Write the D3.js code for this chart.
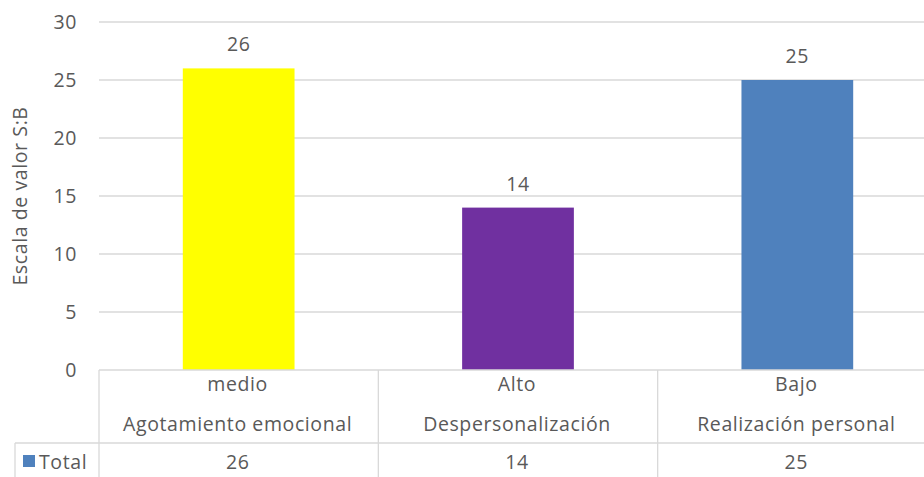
<!DOCTYPE html>
<html>
<head>
<meta charset="utf-8">
<script src="https://cdn.jsdelivr.net/npm/d3@7"></script>
<style>
  body { margin: 0; background: #fff; }
  text { font-family: "Open Sans", sans-serif; fill: #595959; font-size: 19.5px; letter-spacing: 0.6px; }
</style>
</head>
<body>
<script>
const levels = ['medio', 'Alto', 'Bajo'];
const dimensions = ['Agotamiento emocional', 'Despersonalización', 'Realización personal'];
const totals = [26, 14, 25];
const barColors = ['#FFFF00', '#7030A0', '#4F81BD'];
const yTicks = [0, 5, 10, 15, 20, 25, 30];

const width = 924, height = 477;
const plotLeft = 99, plotRight = 937, plotTop = 22, plotBottom = 370;

const svg = d3.select('body').append('svg')
  .attr('width', width).attr('height', height);

const x = d3.scaleBand()
  .domain(d3.range(totals.length))
  .range([plotLeft, plotRight])
  .paddingInner(0.6).paddingOuter(0.3);

// category slots for the table (no padding)
const slot = d3.scaleBand().domain(d3.range(totals.length)).range([plotLeft, plotRight]);

const y = d3.scaleLinear().domain([0, 30]).range([plotBottom, plotTop]);

// gridlines
svg.append('g').selectAll('line')
  .data(yTicks.filter(d => d > 0))
  .enter().append('line')
  .attr('x1', plotLeft).attr('x2', width)
  .attr('y1', d => y(d)).attr('y2', d => y(d))
  .attr('stroke', '#d9d9d9').attr('stroke-width', 1.3);

// tick labels
svg.append('g').selectAll('text')
  .data(yTicks)
  .enter().append('text')
  .attr('x', 77).attr('y', d => y(d))
  .attr('dy', '0.36em')
  .attr('text-anchor', 'end')
  .text(d => d);

// axis title
svg.append('text')
  .attr('transform', 'translate(27,' + ((plotTop + plotBottom) / 2) + ') rotate(-90)')
  .attr('text-anchor', 'middle')
  .text('Escala de valor S:B');

// bars
svg.append('g').selectAll('rect')
  .data(totals)
  .enter().append('rect')
  .attr('x', (d, i) => x(i))
  .attr('width', x.bandwidth())
  .attr('y', d => y(d))
  .attr('height', d => y(0) - y(d))
  .attr('fill', (d, i) => barColors[i]);

// data labels
svg.append('g').selectAll('text')
  .data(totals)
  .enter().append('text')
  .attr('x', (d, i) => x(i) + x.bandwidth() / 2)
  .attr('y', d => y(d) - 17)
  .attr('text-anchor', 'middle')
  .text(d => d);

// data table
const tbl = svg.append('g').attr('stroke', '#d9d9d9').attr('stroke-width', 1.3);
const rowY = 443;
tbl.append('line').attr('x1', plotLeft).attr('x2', width).attr('y1', plotBottom).attr('y2', plotBottom);
tbl.append('line').attr('x1', 15).attr('x2', width).attr('y1', rowY).attr('y2', rowY);
tbl.append('line').attr('x1', 15).attr('x2', 15).attr('y1', rowY).attr('y2', height);
tbl.selectAll('.v')
  .data(d3.range(totals.length))
  .enter().append('line')
  .attr('x1', i => slot(i)).attr('x2', i => slot(i))
  .attr('y1', plotBottom).attr('y2', height);

const cells = svg.append('g').selectAll('g')
  .data(totals)
  .enter().append('g');
cells.append('text')
  .attr('x', (d, i) => slot(i) + slot.bandwidth() / 2 - 1)
  .attr('y', 391).attr('text-anchor', 'middle')
  .text((d, i) => levels[i]);
cells.append('text')
  .attr('x', (d, i) => slot(i) + slot.bandwidth() / 2 - 1)
  .attr('y', 431).attr('text-anchor', 'middle')
  .text((d, i) => dimensions[i]);
cells.append('text')
  .attr('x', (d, i) => slot(i) + slot.bandwidth() / 2 - 1)
  .attr('y', 469).attr('text-anchor', 'middle')
  .text(d => d);

// legend key in table
svg.append('rect').attr('x', 23).attr('y', 455).attr('width', 12).attr('height', 12).attr('fill', '#4F81BD');
svg.append('text').attr('x', 39).attr('y', 469).text('Total');
</script>
</body>
</html>
